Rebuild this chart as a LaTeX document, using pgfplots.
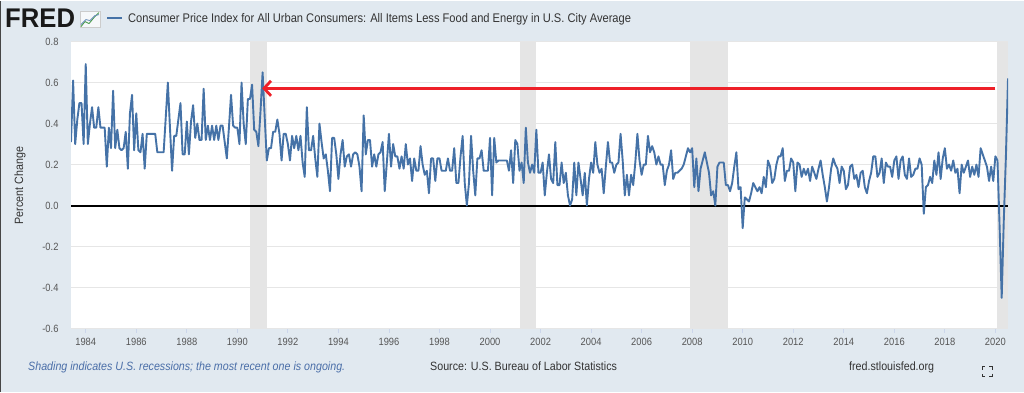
\documentclass[border=0pt]{standalone}
\usepackage{pgfplots}
\pgfplotsset{compat=1.18}
\usepackage{pgfplotstable}
\usepackage{fontspec}
\setmainfont{Liberation Sans}[FakeStretch=0.89]
\newfontfamily\logofont{Liberation Sans}[FakeStretch=0.95]
\usetikzlibrary{arrows.meta}
\definecolor{bg}{HTML}{E1E9F0}
\definecolor{fredblue}{HTML}{4572A7}
\definecolor{shade}{HTML}{E5E5E5}
\definecolor{gridc}{HTML}{E6E6E6}
\definecolor{txt}{HTML}{333333}
\definecolor{tickc}{HTML}{555555}
\definecolor{tickline}{HTML}{CCD6EB}
\definecolor{arrowred}{HTML}{EE2028}
\definecolor{notec}{HTML}{4A6EA8}

% Monthly percent change, Jun 1983 ... Jul 2020 (one row per month)
\pgfplotstableread[row sep=\\]{
v\\
0.31\\0.61\\0.30\\0.42\\0.50\\0.50\\0.30\\
0.69\\0.30\\0.40\\0.48\\0.38\\0.38\\0.48\\0.38\\0.38\\0.38\\0.19\\0.38\\
0.28\\0.56\\0.28\\0.37\\0.28\\0.27\\0.28\\0.36\\0.18\\0.45\\0.54\\0.27\\
0.45\\0.27\\0.26\\0.35\\0.18\\0.35\\0.35\\0.35\\0.35\\0.35\\0.26\\0.26\\
0.26\\0.26\\0.43\\0.60\\0.38\\0.17\\0.34\\0.34\\0.42\\0.50\\0.25\\0.25\\
0.41\\0.25\\0.41\\0.49\\0.33\\0.40\\0.32\\0.32\\0.57\\0.32\\0.39\\0.32\\
0.39\\0.32\\0.39\\0.32\\0.39\\0.39\\0.31\\0.23\\0.38\\0.54\\0.39\\0.38\\
0.38\\0.30\\0.60\\0.40\\0.30\\0.52\\0.52\\0.59\\0.37\\0.36\\0.29\\0.46\\
0.65\\0.43\\0.22\\0.28\\0.28\\0.36\\0.36\\0.42\\0.35\\0.22\\0.35\\0.35\\
0.30\\0.22\\0.34\\0.28\\0.34\\0.27\\0.34\\0.21\\0.14\\0.48\\0.27\\0.27\\
0.34\\0.23\\0.14\\0.40\\0.31\\0.23\\0.25\\0.17\\0.07\\0.33\\0.33\\0.25\\
0.13\\0.25\\0.32\\0.19\\0.24\\0.25\\0.19\\0.25\\0.26\\0.25\\0.19\\0.07\\
0.44\\0.25\\0.32\\0.32\\0.19\\0.25\\0.19\\0.25\\0.26\\0.31\\0.07\\0.21\\
0.35\\0.19\\0.30\\0.24\\0.24\\0.18\\0.24\\0.18\\0.30\\0.20\\0.23\\0.12\\
0.23\\0.17\\0.17\\0.29\\0.20\\0.15\\0.17\\0.06\\0.23\\0.23\\0.12\\0.23\\
0.23\\0.17\\0.17\\0.17\\0.23\\0.17\\0.17\\0.28\\0.11\\0.11\\0.24\\0.34\\
0.11\\0.00\\0.11\\0.34\\0.17\\0.05\\0.23\\0.23\\0.27\\0.17\\0.17\\0.17\\
0.33\\0.05\\0.33\\0.21\\0.22\\0.22\\0.22\\0.22\\0.22\\0.17\\0.27\\0.11\\
0.32\\0.30\\0.17\\0.21\\0.11\\0.38\\0.21\\0.16\\0.20\\0.16\\0.37\\0.16\\
0.16\\0.21\\0.05\\0.16\\0.25\\0.13\\0.11\\0.31\\0.10\\0.10\\0.21\\0.11\\
0.16\\0.05\\0.00\\0.03\\0.21\\0.05\\0.21\\0.13\\0.05\\0.16\\0.00\\0.13\\
0.21\\0.16\\0.31\\0.20\\0.16\\0.18\\0.06\\0.19\\0.31\\0.21\\0.21\\0.16\\
0.20\\0.21\\0.35\\0.22\\0.05\\0.15\\0.05\\0.15\\0.10\\0.21\\0.35\\0.22\\
0.15\\0.20\\0.20\\0.34\\0.26\\0.29\\0.26\\0.20\\0.24\\0.20\\0.20\\0.10\\
0.17\\0.20\\0.27\\0.13\\0.16\\0.16\\0.17\\0.18\\0.20\\0.24\\0.28\\0.26\\
0.28\\0.09\\0.23\\0.07\\0.18\\0.22\\0.26\\0.21\\0.16\\0.05\\0.07\\0.00\\
0.19\\0.21\\0.21\\0.21\\0.10\\0.10\\0.07\\0.11\\0.19\\0.26\\0.08\\0.09\\
-0.11\\0.04\\0.03\\0.02\\0.06\\0.11\\0.09\\0.07\\0.09\\0.06\\0.14\\0.09\\
0.22\\0.19\\0.11\\0.13\\0.20\\0.24\\0.24\\0.28\\0.12\\0.17\\0.17\\0.23\\
0.21\\0.07\\0.21\\0.20\\0.14\\0.18\\0.15\\0.18\\0.12\\0.19\\0.16\\0.13\\
0.18\\0.22\\0.15\\0.09\\0.02\\0.09\\0.18\\0.23\\0.20\\0.18\\0.11\\0.19\\
0.17\\0.08\\0.10\\0.19\\0.20\\0.13\\0.15\\0.09\\0.16\\0.17\\0.09\\0.06\\
0.12\\0.16\\0.24\\0.24\\0.14\\0.16\\0.23\\0.11\\0.21\\0.19\\0.19\\0.14\\
0.22\\0.24\\0.13\\0.22\\0.24\\0.15\\0.13\\0.23\\0.14\\0.15\\0.18\\0.18\\
0.23\\0.20\\-0.04\\0.09\\0.10\\0.14\\0.11\\0.22\\0.15\\0.26\\0.13\\0.23\\
0.28\\0.18\\0.20\\0.17\\0.22\\0.16\\0.18\\0.06\\0.20\\0.16\\0.19\\0.22\\
0.14\\0.19\\0.15\\0.20\\0.14\\0.28\\0.25\\0.22\\0.19\\0.12\\0.19\\0.12\\
0.24\\0.22\\-0.10\\-0.45\\-0.07\\0.24\\0.62\\
}\cpi

\begin{document}
\begin{tikzpicture}[x=1pt,y=1pt]
\fill[bg] (0,0) rectangle (1024,391);
\draw[gray!55!black, line width=1.2pt] (0.6,0) -- (0.6,391);
\begin{axis}[
  at={(71pt,63pt)}, anchor=south west,
  width=937pt, height=287pt, scale only axis,
  xmin=1983.4167, xmax=2020.5, ymin=-0.6, ymax=0.8,
  axis background/.style={fill=white},
  axis line style={draw=none},
  ytick={-0.6,-0.4,-0.2,0,0.2,0.4,0.6,0.8},
  yticklabels={-0.6,-0.4,-0.2,0.0,0.2,0.4,0.6,0.8},
  xtick={1984,1986,1988,1990,1992,1994,1996,1998,2000,2002,2004,2006,2008,2010,2012,2014,2016,2018,2020},
  xticklabels={1984,1986,1988,1990,1992,1994,1996,1998,2000,2002,2004,2006,2008,2010,2012,2014,2016,2018,2020},
  ymajorgrids, grid style={draw=gridc, line width=1pt},
  tick align=outside, xtick pos=bottom, ytick pos=left,
  major tick length=4pt,
  xtick style={draw=tickline, line width=0.9pt},
  ytick style={draw=none},
  ticklabel style={font=\fontsize{10.5}{12}\selectfont, text=tickc},
  xticklabel style={yshift=-2pt},
  yticklabel style={xshift=-5pt},
]
\addplot[fill=shade, draw=none, forget plot] coordinates {(1990.5,-0.6) (1990.5,0.8) (1991.1667,0.8) (1991.1667,-0.6)} -- cycle;
\addplot[fill=shade, draw=none, forget plot] coordinates {(2001.1667,-0.6) (2001.1667,0.8) (2001.8333,0.8) (2001.8333,-0.6)} -- cycle;
\addplot[fill=shade, draw=none, forget plot] coordinates {(2007.9167,-0.6) (2007.9167,0.8) (2009.4167,0.8) (2009.4167,-0.6)} -- cycle;
\addplot[fill=shade, draw=none, forget plot] coordinates {(2020.0833,-0.6) (2020.0833,0.8) (2020.5,0.8) (2020.5,-0.6)} -- cycle;
\addplot[black, line width=2pt, forget plot] coordinates {(1983.4167,0) (2020.5,0)};
\addplot[fredblue, line width=1.9pt, line join=round, no marks] table[x expr={1983+5/12+\coordindex/12}, y=v]{\cpi};
\draw[arrowred, line width=2.8pt, -{Straight Barb[length=7pt,width=15pt]}] (axis cs:2020.0,0.572) -- (axis cs:1990.98,0.572);
\end{axis}
% header
\node[anchor=base west, inner sep=0pt, font=\logofont\bfseries\fontsize{27}{27}\selectfont, text=black!90] at (5,364) {FRED};
\draw[gray!40, line width=0.5pt, fill=white!70!bg] (80,364) rectangle (100,380);
\draw[green!45!black!70, line width=0.9pt, line join=round] (81,365) -- (85,370) -- (89,368) -- (94,374) -- (99,379);
\draw[fredblue!80, line width=0.9pt, line join=round] (81,367) -- (86,372) -- (90,371) -- (95,376) -- (99,377);
\draw[fredblue, line width=2pt] (107,374) -- (122,374);
\node[anchor=base west, inner sep=0pt, font=\fontsize{12.5}{14}\selectfont, text=txt] at (128,369.5) {Consumer Price Index for All Urban Consumers: All Items Less Food and Energy in U.S. City Average};
% y label
\node[rotate=90, inner sep=0pt, font=\fontsize{12}{14}\selectfont, text=txt] at (20,206) {Percent Change};
% footer
\node[anchor=base west, inner sep=0pt, font=\itshape\fontsize{12}{14}\selectfont, text=notec] at (28,21) {Shading indicates U.S. recessions; the most recent one is ongoing.};
\node[anchor=base west, inner sep=0pt, font=\fontsize{12}{14}\selectfont, text=txt] at (430,21) {Source: U.S. Bureau of Labor Statistics};
\node[anchor=base west, inner sep=0pt, font=\fontsize{12}{14}\selectfont, text=txt] at (849,21) {fred.stlouisfed.org};
\draw[txt, line width=0.9pt] (982,22) -- (982,25) -- (985,25) (989,25) -- (992,25) -- (992,22) (992,18) -- (992,15) -- (989,15) (985,15) -- (982,15) -- (982,18);
\end{tikzpicture}
\end{document}
